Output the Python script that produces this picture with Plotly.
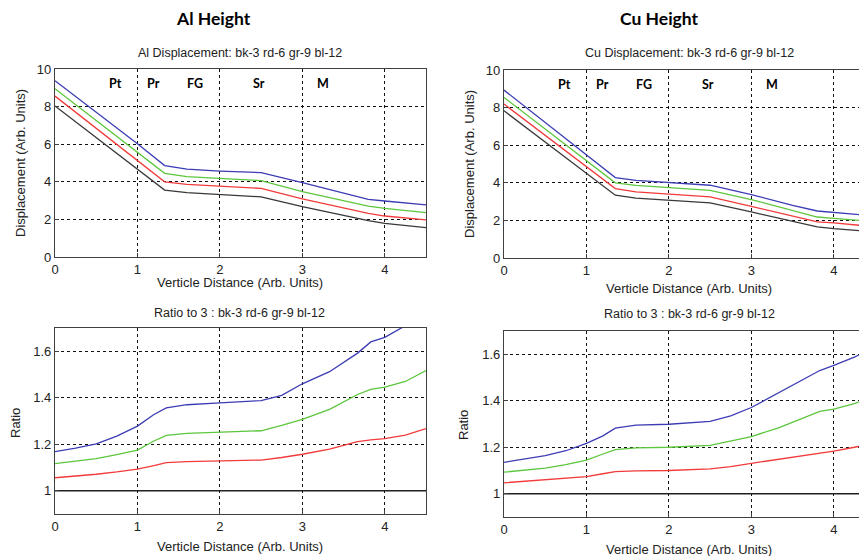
import plotly.graph_objects as go

# ---------------- data ----------------
x_al = [0, 0.5, 1.0, 1.33, 1.6, 2.0, 2.5, 3.0, 3.5, 3.8, 4.0, 4.5]
al_bk = [8.03, 6.36, 4.69, 3.56, 3.42, 3.33, 3.2, 2.68, 2.2, 1.93, 1.79, 1.56]
al_rd = [8.56, 6.84, 5.13, 4.0, 3.86, 3.78, 3.65, 3.09, 2.6, 2.32, 2.18, 1.97]
al_gr = [8.95, 7.26, 5.56, 4.45, 4.28, 4.18, 4.06, 3.48, 2.99, 2.71, 2.59, 2.36]
al_bl = [9.38, 7.7, 6.02, 4.86, 4.67, 4.57, 4.49, 3.95, 3.4, 3.07, 2.98, 2.77]

x_cu = [0, 0.5, 1.0, 1.35, 1.6, 2.0, 2.5, 3.0, 3.5, 3.8, 4.0, 4.4, 4.5]
cu_bk = [7.83, 6.16, 4.5, 3.34, 3.18, 3.07, 2.93, 2.45, 1.95, 1.65, 1.56, 1.42, 1.39]
cu_rd = [8.19, 6.52, 4.86, 3.69, 3.52, 3.39, 3.25, 2.75, 2.24, 1.92, 1.87, 1.69, 1.66]
cu_gr = [8.54, 6.85, 5.17, 4.0, 3.86, 3.75, 3.6, 3.11, 2.55, 2.18, 2.11, 1.97, 1.94]
cu_bl = [8.93, 7.2, 5.48, 4.28, 4.13, 4.03, 3.87, 3.37, 2.8, 2.5, 2.43, 2.27, 2.23]

x_r = [0, 0.25, 0.5, 0.75, 1.0, 1.2, 1.35, 1.6, 2.0, 2.5, 2.75, 3.0, 3.33, 3.67, 3.83, 4.0, 4.25, 4.5]
ral_bl = [1.168, 1.183, 1.202, 1.235, 1.278, 1.328, 1.356, 1.37, 1.378, 1.388, 1.41, 1.46, 1.512, 1.592, 1.64, 1.66, 1.71, 1.77]
ral_gr = [1.117, 1.126, 1.138, 1.155, 1.175, 1.214, 1.238, 1.247, 1.252, 1.258, 1.281, 1.307, 1.35, 1.414, 1.436, 1.446, 1.47, 1.517]
ral_rd = [1.056, 1.063, 1.071, 1.081, 1.093, 1.108, 1.121, 1.125, 1.128, 1.132, 1.143, 1.157, 1.179, 1.211, 1.219, 1.224, 1.239, 1.267]

rcu_bl = [1.135, 1.148, 1.164, 1.185, 1.217, 1.249, 1.282, 1.295, 1.299, 1.311, 1.335, 1.371, 1.435, 1.5, 1.53, 1.552, 1.588, 1.63]
rcu_gr = [1.093, 1.1, 1.11, 1.125, 1.145, 1.171, 1.19, 1.197, 1.2, 1.208, 1.226, 1.246, 1.283, 1.331, 1.354, 1.364, 1.388, 1.42]
rcu_rd = [1.047, 1.054, 1.061, 1.067, 1.074, 1.086, 1.095, 1.098, 1.1, 1.107, 1.117, 1.131, 1.148, 1.166, 1.174, 1.183, 1.2, 1.22]
r_bk = [1.0] * len(x_r)

regions = ["Pt", "Pr", "FG", "Sr", "M"]
region_x = [0.73, 1.19, 1.7, 2.48, 3.25]
region_y = 9.25

disp_ticks = [0, 2, 4, 6, 8, 10]
ratio_ticks = [1, 1.2, 1.4, 1.6]
x_ticks = [0, 1, 2, 3, 4]

# ---------------- style ----------------
C_BK = "#383838"
C_RD = "#f23a3a"
C_GR = "#5cc63c"
C_BL = "#3c3cb4"
W = 867
H = 556
OFF = 8  # page body margin
FONT = "Liberation Sans, Arial, sans-serif"

fig = go.Figure()

def add_set(x, series, xa, ya):
    for y, c in series:
        fig.add_trace(go.Scatter(x=x, y=y, mode="lines", xaxis=xa, yaxis=ya,
                                 line=dict(color=c, width=1.3), showlegend=False,
                                 hoverinfo="skip"))

add_set(x_al, [(al_bk, C_BK), (al_rd, C_RD), (al_gr, C_GR), (al_bl, C_BL)], "x", "y")
add_set(x_cu, [(cu_bk, C_BK), (cu_rd, C_RD), (cu_gr, C_GR), (cu_bl, C_BL)], "x2", "y2")
add_set(x_r, [(r_bk, "#202020"), (ral_rd, C_RD), (ral_gr, C_GR), (ral_bl, C_BL)], "x3", "y3")
add_set(x_r, [(r_bk, "#202020"), (rcu_rd, C_RD), (rcu_gr, C_GR), (rcu_bl, C_BL)], "x4", "y4")

def px_x(p):
    return min(1.0, (p - OFF) / W)

def px_y(p):
    return 1 - (p - OFF) / H

axis_common = dict(showgrid=True, gridcolor="#111111", griddash="3px,3px", gridwidth=1,
                   zeroline=False, showline=True, linecolor="#404040", linewidth=1.2,
                   ticks="inside", ticklen=4, tickcolor="#404040", automargin=False,
                   mirror=True,
                   tickfont=dict(family=FONT, size=13, color="#222222"))

layout = dict(
    template="none",
    width=W, height=H, margin=dict(l=0, r=0, t=0, b=0, pad=0), autosize=False,
    paper_bgcolor="white", plot_bgcolor="white",
    xaxis=dict(domain=[px_x(55), px_x(426)], range=[0, 4.5], tickvals=x_ticks,
               anchor="y", **axis_common),
    yaxis=dict(domain=[px_y(257), px_y(69)], range=[0, 10], tickvals=disp_ticks,
               anchor="x", **axis_common),
    xaxis2=dict(domain=[px_x(504), px_x(875)], range=[0, 4.5], tickvals=x_ticks,
                anchor="y2", **axis_common),
    yaxis2=dict(domain=[px_y(258), px_y(70)], range=[0, 10], tickvals=disp_ticks,
                anchor="x2", **axis_common),
    xaxis3=dict(domain=[px_x(55), px_x(426)], range=[0, 4.5], tickvals=x_ticks,
                anchor="y3", **axis_common),
    yaxis3=dict(domain=[px_y(514), px_y(328)], range=[0.9, 1.7], tickvals=ratio_ticks,
                anchor="x3", **axis_common),
    xaxis4=dict(domain=[px_x(504), px_x(875)], range=[0, 4.5], tickvals=x_ticks,
                anchor="y4", **axis_common),
    yaxis4=dict(domain=[px_y(517), px_y(331)], range=[0.9, 1.7], tickvals=ratio_ticks,
                anchor="x4", **axis_common),
)
fig.update_layout(**layout)

ann = []

def text(x, y, s, size=12.5, family=FONT, angle=0, color="#222222"):
    ann.append(dict(x=px_x(x), y=px_y(y), xref="paper", yref="paper", text=s,
                    showarrow=False, textangle=angle, xanchor="center", yanchor="middle",
                    font=dict(family=family, size=size, color=color)))

BOLD_FONT = "Lato, Open Sans, sans-serif"
text(213, 18, "<b>Al Height</b>", size=17.5, family=BOLD_FONT, color="black")
text(659, 18, "<b>Cu Height</b>", size=17.5, family=BOLD_FONT, color="black")
text(240, 53, "Al Displacement: bk-3 rd-6 gr-9 bl-12")
text(689, 53, "Cu Displacement: bk-3 rd-6 gr-9 bl-12")
text(240, 282, "Verticle Distance (Arb. Units)", size=13)
text(689, 288, "Verticle Distance (Arb. Units)", size=13)
text(240, 313, "Ratio to 3 : bk-3 rd-6 gr-9 bl-12")
text(689, 314, "Ratio to 3 : bk-3 rd-6 gr-9 bl-12")
text(240, 546, "Verticle Distance (Arb. Units)", size=13)
text(689, 549, "Verticle Distance (Arb. Units)", size=13)
text(20, 163, "Displacement (Arb. Units)", size=13, angle=-90)
text(469, 164, "Displacement (Arb. Units)", size=13, angle=-90)
text(15, 423, "Ratio", size=13, angle=-90)
text(463, 425, "Ratio", size=13, angle=-90)

for xa, ya in (("x", "y"), ("x2", "y2")):
    for lab, rx in zip(regions, region_x):
        ann.append(dict(x=rx, y=region_y, xref=xa, yref=ya, text="<b>" + lab + "</b>",
                        showarrow=False, font=dict(family=BOLD_FONT, size=12.5, color="black")))

fig.update_layout(annotations=ann)
fig.write_html("out.html")
